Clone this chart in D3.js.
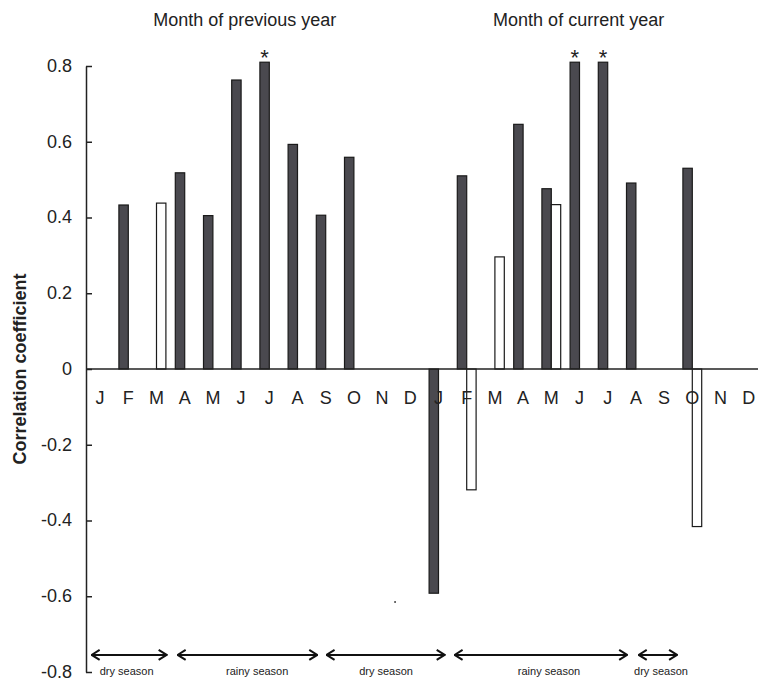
<!DOCTYPE html>
<meta charset="utf-8">
<style>
body { margin: 0; background: #fff; }
svg { font-family: "Liberation Sans", Arial, sans-serif; }
.axis text { font-size: 18px; fill: #222; }
.axis path, .axis line { fill: none; stroke: #222; stroke-width: 1.5px; }
.month { font-size: 18px; fill: #222; text-anchor: middle; }
.title { font-size: 18px; fill: #222; text-anchor: middle; }
.season { font-size: 11px; fill: #222; text-anchor: middle; }
.bar-dark { fill: #4a494f; stroke: #1a1a1a; stroke-width: 1.2px; }
.bar-light { fill: #fff; stroke: #1a1a1a; stroke-width: 1.2px; }
</style>
<body>
<div id="chart"></div>

<script src="https://cdn.jsdelivr.net/npm/d3@7"></script>
<script>
// month labels, previous year then current year
var months = ["J","F","M","A","M","J","J","A","S","O","N","D",
              "J","F","M","A","M","J","J","A","S","O","N","D"];

// dark bars
var darkValues = [null, 0.433, null, 0.518, 0.405, 0.763, 0.81, 0.593, 0.406, 0.559, null, null,
                  -0.592, 0.510, null, 0.646, 0.476, 0.81, 0.81, 0.491, null, 0.530, null, null];
// white bars
var lightValues = [null, null, 0.438, null, null, null, null, null, null, null, null, null,
                   null, -0.319, 0.296, null, 0.434, null, null, null, null, -0.416, null, null];

// months whose dark bar is marked with an asterisk
var significant = [6, 17, 18];

var yTicks = [-0.8, -0.6, -0.4, -0.2, 0, 0.2, 0.4, 0.6, 0.8];

var yearTitles = ["Month of previous year", "Month of current year"];
var yearTitleAt = [5.63, 17.47];   // in month units

// season arrows, in month units
var seasonLabels = ["dry season", "rainy season", "dry season", "rainy season", "dry season"];
var seasonStart  = [0.2, 3.25, 8.53, 13.07, 19.6];
var seasonEnd    = [2.86, 8.2, 12.72, 19.19, 20.96];
var seasonLabelAt = [1.44, 6.07, 10.64, 16.42, 20.39];

var width = 758, height = 679;

var svg = d3.select("#chart").append("svg")
    .attr("width", width)
    .attr("height", height);

var x = d3.scaleBand().domain(d3.range(months.length)).range([86, 762.8]);
var xSub = d3.scaleBand().domain(["dark", "light"]).range([0, x.bandwidth()]).paddingOuter(0.5);
var mx = d3.scaleLinear().domain([0, months.length]).range([86, 762.8]);
var y = d3.scaleLinear().domain([-0.8, 0.8]).range([672, 66]);

// y axis, ticks pointing inward
var yAxis = svg.append("g")
    .attr("class", "axis")
    .attr("transform", "translate(86,0)")
    .call(d3.axisLeft(y)
        .tickValues(yTicks)
        .tickSizeInner(-6)
        .tickSizeOuter(0)
        .tickPadding(14)
        .tickFormat(function(d) { return d === 0 ? "0" : d.toFixed(1); }));
yAxis.selectAll("text").attr("dy", "0.3em");

svg.append("text")
    .attr("transform", "translate(26," + y(0) + ") rotate(-90)")
    .attr("text-anchor", "middle")
    .style("font-size", "18px")
    .style("font-weight", "bold")
    .style("fill", "#222")
    .text("Correlation coefficient");

// bars
function drawBars(values, key, cls) {
  var pts = values.map(function(v, i) { return {i: i, v: v}; })
      .filter(function(d) { return d.v !== null; });
  svg.append("g").selectAll("rect")
      .data(pts)
    .enter().append("rect")
      .attr("class", cls)
      .attr("x", function(d) { return x(d.i) + xSub(key); })
      .attr("width", xSub.bandwidth())
      .attr("y", function(d) { return y(Math.max(0, d.v)); })
      .attr("height", function(d) { return Math.abs(y(d.v) - y(0)); });
}
drawBars(darkValues, "dark", "bar-dark");
drawBars(lightValues, "light", "bar-light");

// zero line
svg.append("line")
    .attr("x1", 86).attr("x2", 762.8)
    .attr("y1", y(0)).attr("y2", y(0))
    .style("stroke", "#222").style("stroke-width", 1.5);

// month labels
svg.append("g").selectAll("text")
    .data(months)
  .enter().append("text")
    .attr("class", "month")
    .attr("x", function(d, i) { return x(i) + x.bandwidth() / 2; })
    .attr("y", y(0) + 35)
    .text(function(d) { return d; });

// asterisks
svg.append("g").selectAll("text")
    .data(significant)
  .enter().append("text")
    .attr("x", function(i) { return x(i) + xSub("dark") + xSub.bandwidth() / 2; })
    .attr("y", function(i) { return y(darkValues[i]) + 3; })
    .attr("text-anchor", "middle")
    .style("font-size", "22px")
    .style("fill", "#222")
    .text("*");

// titles
svg.append("g").selectAll("text")
    .data(yearTitles)
  .enter().append("text")
    .attr("class", "title")
    .attr("x", function(d, i) { return mx(yearTitleAt[i]); })
    .attr("y", 26)
    .text(function(d) { return d; });

// stray dot in the original figure
svg.append("circle")
    .attr("cx", mx(10.96)).attr("cy", y(-0.615)).attr("r", 1)
    .style("fill", "#444");

// season arrows
var defs = svg.append("defs");
defs.append("marker")
    .attr("id", "head")
    .attr("markerUnits", "userSpaceOnUse")
    .attr("viewBox", "0 -6 10 12")
    .attr("refX", 9).attr("refY", 0)
    .attr("markerWidth", 10).attr("markerHeight", 12)
    .attr("orient", "auto-start-reverse")
  .append("path")
    .attr("d", "M1,-5L9,0L1,5")
    .style("fill", "none").style("stroke", "#111").style("stroke-width", 2);

var arrowY = y(-0.755);
svg.append("g").selectAll("line")
    .data(seasonLabels)
  .enter().append("line")
    .attr("x1", function(d, i) { return mx(seasonStart[i]); })
    .attr("x2", function(d, i) { return mx(seasonEnd[i]); })
    .attr("y1", arrowY).attr("y2", arrowY)
    .style("stroke", "#111").style("stroke-width", 2)
    .attr("marker-start", "url(#head)")
    .attr("marker-end", "url(#head)");

svg.append("g").selectAll("text")
    .data(seasonLabels)
  .enter().append("text")
    .attr("class", "season")
    .attr("x", function(d, i) { return mx(seasonLabelAt[i]); })
    .attr("y", y(-0.8) + 3)
    .text(function(d) { return d; });
</script>
